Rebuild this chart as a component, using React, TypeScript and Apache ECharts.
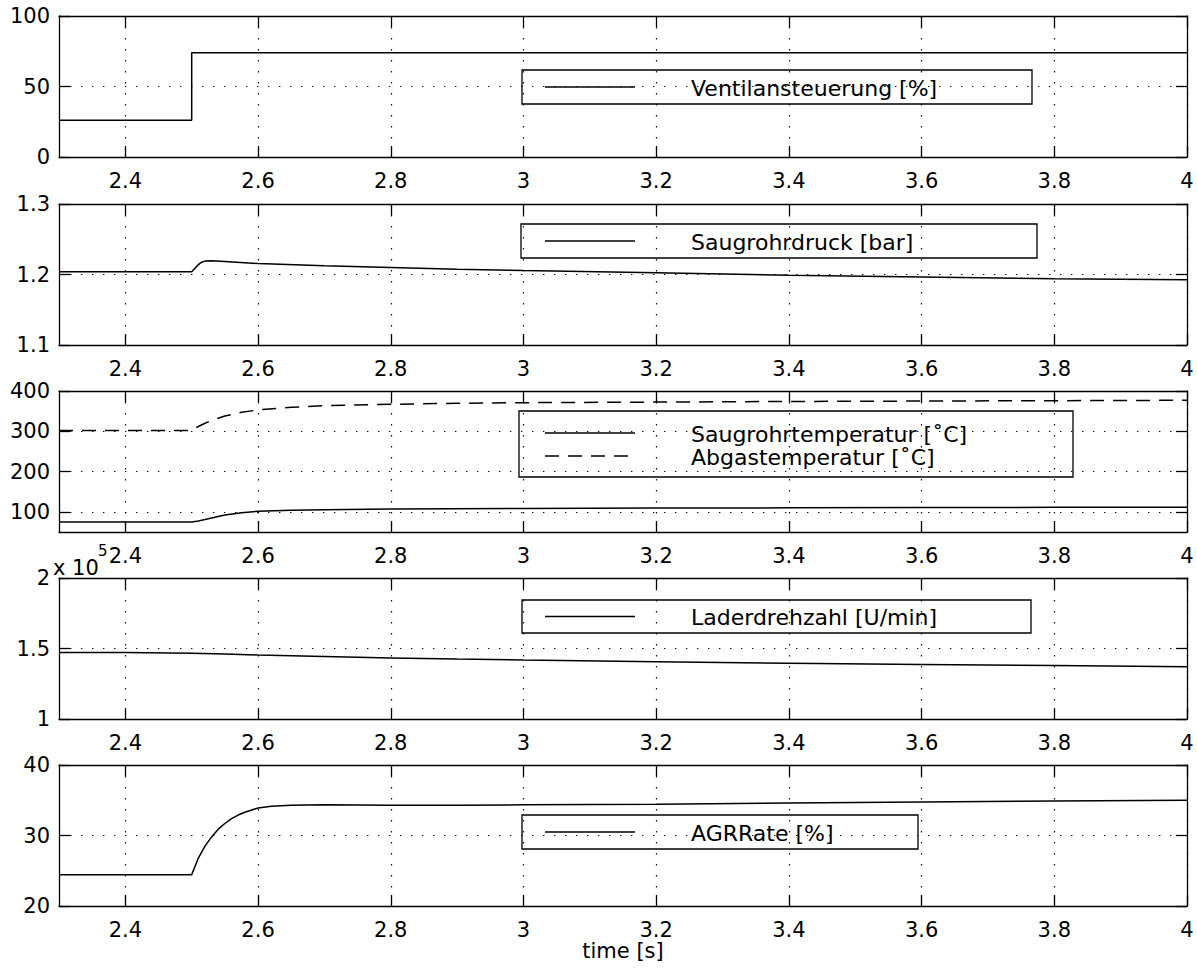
import React, { useEffect, useRef } from "react";
import * as echarts from "echarts";

// time axis (seconds)
const timeMin = 2.3;
const timeMax = 4;
const timeTicks = [2.4, 2.6, 2.8, 3, 3.2, 3.4, 3.6, 3.8, 4];

// Ventilansteuerung [%]
const ventilT = [2.3, 2.5, 2.5, 4.0];
const ventilV = [26, 26, 74, 74];

// Saugrohrdruck [bar]
const druckT = [2.3, 2.4, 2.5, 2.505, 2.51, 2.515, 2.52, 2.53, 2.55, 2.6, 2.7, 2.8, 2.9, 3.0, 3.2, 3.4, 3.6, 3.8, 4.0];
const druckV = [1.204, 1.204, 1.204, 1.209, 1.214, 1.2175, 1.219, 1.2195, 1.2185, 1.2155, 1.2125, 1.21, 1.2075, 1.2055, 1.2025, 1.199, 1.1965, 1.194, 1.1925];

// Saugrohrtemperatur [°C]
const saugTempT = [2.3, 2.5, 2.51, 2.52, 2.53, 2.55, 2.575, 2.6, 2.65, 2.7, 2.8, 3.0, 3.2, 3.4, 3.6, 3.8, 4.0];
const saugTempV = [75, 75, 77.5, 81, 85, 92, 98, 101.5, 104, 105.5, 107, 108.5, 109.3, 110, 110.7, 111.2, 111.7];

// Abgastemperatur [°C]
const abgasT = [2.3, 2.5, 2.51, 2.52, 2.53, 2.55, 2.575, 2.6, 2.65, 2.7, 2.8, 2.9, 3.0, 3.2, 3.4, 3.6, 3.8, 4.0];
const abgasV = [302, 302, 312, 320, 327, 338, 347, 353, 359.5, 363.5, 367, 369.5, 371, 372.5, 374, 375, 376, 377];

// Laderdrehzahl [U/min]
const laderT = [2.3, 2.4, 2.5, 2.55, 2.6, 2.7, 2.8, 2.9, 3.0, 3.2, 3.4, 3.6, 3.8, 4.0];
const laderV = [147200, 147100, 146700, 146100, 145400, 144300, 143300, 142500, 141800, 140600, 139600, 138700, 137900, 137000];

// AGRRate [%]
const agrT = [2.3, 2.5, 2.51, 2.52, 2.53, 2.54, 2.55, 2.56, 2.57, 2.58, 2.6, 2.62, 2.65, 2.7, 2.8, 2.9, 3.0, 3.2, 3.4, 3.6, 3.8, 4.0];
const agrV = [24.45, 24.45, 26.8, 28.5, 29.8, 30.9, 31.7, 32.4, 32.9, 33.3, 33.9, 34.15, 34.3, 34.35, 34.3, 34.3, 34.35, 34.45, 34.6, 34.75, 34.9, 35.0];

// y axis ranges and tick values per panel
const yRanges = [
  { min: 0, max: 100, ticks: [0, 50, 100] },
  { min: 1.1, max: 1.3, ticks: [1.1, 1.2, 1.3] },
  { min: 50, max: 400, ticks: [100, 200, 300, 400] },
  { min: 100000, max: 200000, ticks: [100000, 150000, 200000] },
  { min: 20, max: 40, ticks: [20, 30, 40] },
];

const legendLabels = [
  ["Ventilansteuerung [%]"],
  ["Saugrohrdruck [bar]"],
  ["Saugrohrtemperatur [˚C]", "Abgastemperatur [˚C]"],
  ["Laderdrehzahl [U/min]"],
  ["AGRRate [%]"],
];

const FONT = '"DejaVu Sans", "Liberation Sans", sans-serif';
const FONT_SIZE = 21;
const LEGEND_FONT_SIZE = 22;
const GRID_LEFT = 59;
const GRID_WIDTH = 1128;
const PANEL_TOPS = [16, 204, 391, 578, 765];
const PANEL_HEIGHT = 141;
const DASH = [14, 9];

const zip = (t: number[], v: number[]) => t.map((x, i) => [x, v[i]]);

const black = "#000";
const axisLine = { show: true, onZero: false, lineStyle: { color: black, width: 1.3 } };
const dotted = { color: "#111", width: 1.2, type: [1.4, 9.6] as number[] };

function buildOption() {
  const grid: any[] = [];
  const xAxis: any[] = [];
  const yAxis: any[] = [];
  const series: any[] = [];

  PANEL_TOPS.forEach((top, i) => {
    grid.push({ left: GRID_LEFT, top, width: GRID_WIDTH, height: PANEL_HEIGHT, containLabel: false });
    const r = yRanges[i];
    const xBase = {
      type: "value",
      gridIndex: i,
      min: timeMin,
      max: timeMax,
      axisLine,
      axisTick: { show: true, inside: true, length: 11, customValues: timeTicks, lineStyle: { color: black, width: 1.3 } },
    };
    xAxis.push({
      ...xBase,
      position: "bottom",
      axisLabel: {
        customValues: timeTicks,
        fontFamily: FONT,
        fontSize: FONT_SIZE,
        color: black,
        margin: 13,
        formatter: (v: number) => String(Math.round(v * 10) / 10),
      },
      splitLine: { show: true, lineStyle: dotted },
      ...(i === 4
        ? {
            name: "time [s]",
            nameLocation: "middle",
            nameGap: 31,
            nameTextStyle: { fontFamily: FONT, fontSize: FONT_SIZE, color: black, verticalAlign: "top" },
          }
        : {}),
    });
    xAxis.push({ ...xBase, position: "top", axisLabel: { show: false }, splitLine: { show: false } });

    const yBase = {
      type: "value",
      gridIndex: i,
      min: r.min,
      max: r.max,
      axisLine,
      axisTick: { show: true, inside: true, length: 11, customValues: r.ticks, lineStyle: { color: black, width: 1.3 } },
    };
    yAxis.push({
      ...yBase,
      position: "left",
      axisLabel: {
        customValues: r.ticks,
        fontFamily: FONT,
        fontSize: FONT_SIZE,
        color: black,
        margin: 9,
        formatter: (v: number) => (i === 3 ? String(v / 100000) : String(Math.round(v * 100) / 100)),
      },
      splitLine: { show: true, lineStyle: dotted },
    });
    yAxis.push({ ...yBase, position: "right", axisLabel: { show: false }, splitLine: { show: false } });
  });

  const line = (i: number, data: number[][], dashed = false) => ({
    type: "line",
    xAxisIndex: 2 * i,
    yAxisIndex: 2 * i,
    data,
    showSymbol: false,
    silent: true,
    lineStyle: { color: black, width: 1.5, type: dashed ? DASH : "solid" },
    z: 3,
  });

  series.push(line(0, zip(ventilT, ventilV)));
  series.push(line(1, zip(druckT, druckV)));
  series.push(line(2, zip(saugTempT, saugTempV)));
  series.push(line(2, zip(abgasT, abgasV), true));
  series.push(line(3, zip(laderT, laderV)));
  series.push(line(4, zip(agrT, agrV)));

  // legend boxes
  const boxes = [
    { x: 522, y: 70, w: 510, h: 34 },
    { x: 521, y: 224, w: 516, h: 34 },
    { x: 519, y: 411, w: 554, h: 66 },
    { x: 522, y: 600, w: 509, h: 33 },
    { x: 522, y: 815, w: 396, h: 34 },
  ];
  const graphic: any[] = [];
  boxes.forEach((b, i) => {
    const children: any[] = [
      { type: "rect", shape: { x: b.x, y: b.y, width: b.w, height: b.h }, style: { fill: "#fff", stroke: black, lineWidth: 1.3 } },
    ];
    const labels = legendLabels[i];
    labels.forEach((lab, k) => {
      const cy = labels.length === 1 ? b.y + b.h / 2 : b.y + 22 + k * 23;
      children.push({
        type: "line",
        shape: { x1: 545, y1: cy, x2: 635, y2: cy },
        style: { stroke: black, lineWidth: 1.5, lineDash: k === 1 ? DASH : null },
      });
      children.push({
        type: "text",
        style: { text: lab, x: 691, y: cy + 1, font: `${LEGEND_FONT_SIZE}px ${FONT}`, fill: black, verticalAlign: "middle" },
      });
    });
    graphic.push({ type: "group", z: 100, children });
  });

  // exponent of the rotor speed axis
  graphic.push({
    type: "text",
    z: 100,
    style: { text: "x 10", x: 53, y: 568, font: `${FONT_SIZE}px ${FONT}`, fill: black, verticalAlign: "middle" },
  });
  graphic.push({
    type: "text",
    z: 100,
    style: { text: "5", x: 98, y: 551, font: `15px ${FONT}`, fill: black, verticalAlign: "middle" },
  });

  return {
    animation: false,
    backgroundColor: "#fff",
    grid,
    xAxis,
    yAxis,
    series,
    graphic,
  };
}

export default function App() {
  const ref = useRef<HTMLDivElement>(null);
  useEffect(() => {
    if (!ref.current) return;
    const chart = echarts.init(ref.current, undefined, { renderer: "svg" });
    chart.setOption(buildOption() as any);
    return () => chart.dispose();
  }, []);
  return <div ref={ref} style={{ position: "absolute", left: 0, top: 0, width: 1197, height: 973 }} />;
}
